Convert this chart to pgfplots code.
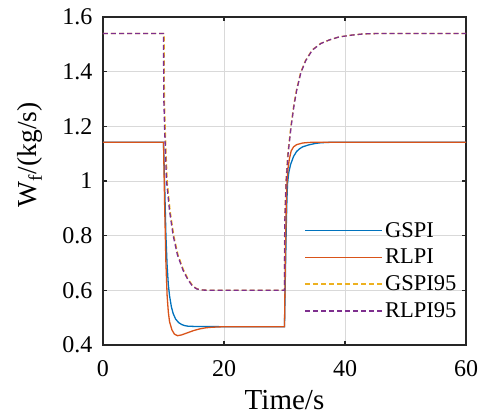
\documentclass[border=0pt]{standalone}
\usepackage{pgfplots}
\pgfplotsset{compat=1.18}
\usepackage{fontspec}
\setmainfont{Liberation Serif}
\definecolor{mblue}{rgb}{0,0.447,0.741}
\definecolor{morange}{rgb}{0.85,0.325,0.098}
\definecolor{myellow}{rgb}{0.929,0.694,0.125}
\definecolor{mpurple}{rgb}{0.494,0.184,0.556}
\begin{document}
\begin{tikzpicture}
\path[use as bounding box] (-103pt,-71pt) rectangle (375pt,345pt);
\begin{axis}[
  scale only axis, width=363pt, height=328pt,
  xmin=0, xmax=60, ymin=0.4, ymax=1.6,
  xtick={0,20,40,60}, ytick={0.4,0.6,...,1.6},
  yticklabels={0.4,0.6,0.8,1,1.2,1.4,1.6},
  xticklabels={0,20,40,60},
  grid=major, major grid style={gray!30, line width=1pt},
  axis line style={line width=1.6pt, black!85},
  tick style={line width=1.2pt, black!85},
  major tick length=4pt, tick align=inside,
  xtick pos=both, ytick pos=both,
  /pgf/number format/assume math mode=true,
  tick label style={font=\fontsize{24}{27}\selectfont},
  xticklabel style={yshift=-12pt},
  yticklabel style={xshift=-7pt},
  xlabel={Time/s},
  xlabel style={font=\fontsize{29}{32}\selectfont, at={(rel axis cs:0.5,0)}, anchor=base, yshift=-64pt},
  ylabel={W\textsubscript{f}/(kg/s)},
  ylabel style={font=\fontsize{27.5}{30}\selectfont, at={(axis description cs:-0.2,0.58)}, anchor=center},
  legend style={draw=none, fill=none, at={(rel axis cs:0.555,0.381)}, anchor=north west,
    font=\fontsize{22.5}{25}\selectfont, row sep=6.5pt, inner sep=0pt},
  legend cell align=left,
  legend image code/.code={\draw[#1, line width=1.4pt] (0pt,0pt) -- (77pt,0pt);},
  every axis plot/.append style={line width=1.3pt},
]
\addplot[mblue] coordinates {
(0,1.142)(10,1.142)(10.2,0.98)(10.4,0.80)(10.6,0.69)(10.8,0.62)(11,0.58)(11.3,0.54)(11.6,0.515)(12,0.495)(12.5,0.482)(13,0.475)(13.5,0.471)(14,0.469)(15,0.468)(20,0.467)(30,0.467)
(30.1,0.6)(30.2,0.72)(30.3,0.84)(30.4,0.93)(30.5,0.99)(30.7,1.03)(31,1.06)(31.5,1.09)(32,1.108)(32.5,1.118)(33,1.125)(34,1.132)(35,1.137)(36,1.140)(37,1.141)(38,1.142)(60,1.142)};
\addlegendentry{GSPI}
\addplot[morange] coordinates {
(0,1.142)(10,1.142)(10.2,0.9)(10.4,0.7)(10.6,0.58)(10.8,0.52)(11,0.485)(11.4,0.455)(11.8,0.44)(12.3,0.434)(13,0.437)(14,0.445)(15,0.453)(16,0.459)(17,0.463)(18,0.465)(20,0.467)(30,0.467)
(30.1,0.65)(30.2,0.8)(30.3,0.92)(30.4,0.99)(30.6,1.05)(30.8,1.08)(31.1,1.11)(31.5,1.125)(32,1.133)(33,1.139)(34,1.141)(35,1.142)(60,1.142)};
\addlegendentry{RLPI}
\addplot[myellow, dash pattern=on 5pt off 3pt] coordinates {
(0,1.54)(10.1,1.54)(10.15,1.3)(10.3,1.18)(10.6,1.0)(11.1,0.89)(11.7,0.80)(12.4,0.73)(13.3,0.675)(14.1,0.64)(14.9,0.615)(15.6,0.605)(16.6,0.601)(18,0.6)(30,0.6)
(30.03,0.85)(30.22,0.99)(30.55,1.1)(31.05,1.2)(31.55,1.28)(31.95,1.33)(32.65,1.396)(33.45,1.44)(34.55,1.479)(35.95,1.503)(37.4,1.516)(39,1.527)(41.2,1.534)(43,1.538)(46,1.54)(60,1.54)};
\addlegendentry{GSPI95}
\addplot[mpurple, dash pattern=on 5pt off 3pt] coordinates {
(0,1.54)(10,1.54)(10.05,1.3)(10.2,1.18)(10.5,1.0)(11,0.89)(11.6,0.80)(12.3,0.73)(13.2,0.675)(14,0.64)(14.8,0.615)(15.5,0.605)(16.5,0.601)(18,0.6)(30,0.6)
(30.05,0.85)(30.26,0.99)(30.6,1.1)(31.1,1.2)(31.6,1.28)(32,1.33)(32.7,1.396)(33.5,1.44)(34.6,1.479)(36,1.503)(37.4,1.516)(39,1.527)(41.2,1.534)(43,1.538)(46,1.54)(60,1.54)};
\addlegendentry{RLPI95}
\end{axis}
\end{tikzpicture}
\end{document}
